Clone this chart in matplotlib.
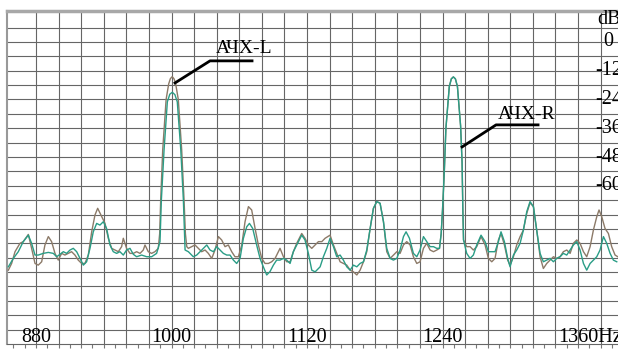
import matplotlib.pyplot as plt
import numpy as np

# frequency response, left channel (brown trace)
freq_l = [855.5, 858.4, 861.4, 865.8, 868.7, 873.2, 876.1, 879.1, 882.0, 885.0,
          887.9, 890.9, 893.8, 896.8, 899.7, 902.7, 905.6, 908.6, 911.5, 914.5,
          917.4, 920.4, 923.3, 926.3, 929.3, 932.2, 934.6, 937.5, 941.1, 944.0,
          947.0, 949.9, 952.9, 955.8, 957.3, 960.2, 963.2, 966.2, 969.1, 972.1,
          975.0, 976.5, 979.4, 982.4, 985.3, 988.3,
          989.5, 990.4, 992.2, 995.2, 997.5, 999.0, 1000.6, 1002.1, 1003.5, 1006.0,
          1009.0, 1011.1, 1012.3, 1013.5,
          1014.9, 1017.9, 1020.8, 1023.8, 1026.7, 1029.7, 1032.6, 1035.6, 1038.5, 1041.5,
          1044.4, 1047.4, 1050.3, 1053.3, 1056.2, 1059.2, 1062.2, 1065.1, 1068.1, 1071.0,
          1074.0, 1076.9, 1079.9, 1082.8, 1085.8, 1088.7, 1091.7, 1096.1, 1099.1, 1102.0,
          1105.0, 1107.9, 1110.9, 1115.3, 1118.2, 1121.2, 1124.2, 1127.2, 1130.1, 1133.1,
          1136.0, 1140.4, 1143.4, 1146.3, 1149.3, 1152.2, 1155.2, 1158.2, 1161.1, 1164.1,
          1167.0, 1170.0, 1172.9, 1175.9, 1178.8, 1181.8, 1184.7, 1187.7, 1190.6, 1193.6,
          1196.5, 1199.5, 1202.4, 1205.4, 1208.3, 1211.3, 1214.2, 1217.2, 1220.1, 1223.1,
          1226.0, 1229.0, 1232.0, 1234.9, 1237.3,
          1238.8, 1240.0, 1241.5, 1243.0, 1246.0, 1247.8, 1249.6, 1251.4, 1253.2, 1256.0,
          1257.3, 1258.0, 1258.6,
          1261.4, 1264.4, 1267.3, 1270.3, 1274.1, 1277.7, 1280.6, 1283.6, 1286.5, 1289.5,
          1291.8, 1294.8, 1297.7, 1299.8, 1302.8, 1305.7, 1308.7, 1311.6, 1314.6, 1317.5,
          1320.5, 1323.4, 1326.4, 1329.3, 1332.3, 1335.2, 1338.2, 1341.1, 1344.1, 1347.0,
          1350.0, 1353.0, 1355.9, 1358.9, 1361.8, 1364.8, 1367.7, 1370.7, 1373.6, 1376.6,
          1378.6, 1381.0, 1383.9, 1386.9, 1389.8, 1392.8, 1395.2]
level_l = [-95.2, -92.4, -87.5, -84.0, -83.3, -80.3, -86.1, -92.4, -93.1, -91.7,
           -84.7, -81.2, -83.3, -88.2, -91.0, -88.2, -88.9, -88.2, -87.5, -88.9,
           -91.0, -92.4, -92.4, -88.9, -79.2, -72.2, -69.4, -72.2, -75.7, -81.9,
           -86.1, -86.8, -87.5, -85.4, -81.9, -86.1, -88.2, -88.2, -87.5, -88.2,
           -86.8, -84.7, -87.5, -88.2, -87.5, -86.1,
           -80.0, -66.0, -45.0, -24.0, -17.5, -15.3, -14.5, -15.3, -17.0, -24.0,
           -45.0, -66.0, -80.0, -85.4,
           -86.1, -85.4, -84.7, -86.1, -87.5, -86.8, -88.2, -90.3, -86.8, -81.2,
           -82.6, -85.4, -84.7, -87.5, -89.6, -89.6, -84.7, -75.0, -68.7, -70.1,
           -77.8, -84.7, -90.3, -92.4, -92.4, -91.7, -90.3, -86.1, -89.6, -91.7,
           -91.7, -87.5, -84.0, -79.9, -81.9, -84.7, -86.1, -84.7, -83.3, -83.3,
           -81.9, -80.6, -84.7, -88.2, -91.7, -92.4, -93.1, -95.2, -95.9, -97.2,
           -95.2, -91.7, -87.5, -77.8, -69.4, -66.6, -67.3, -75.0, -87.5, -90.3,
           -88.9, -87.5, -88.2, -84.7, -83.3, -84.7, -89.6, -92.4, -91.7, -86.1,
           -84.0, -86.8, -87.5, -86.8, -86.1,
           -80.0, -70.0, -55.0, -36.0, -18.6, -15.4, -14.6, -15.4, -18.6, -35.0,
           -50.0, -70.0, -82.6,
           -85.4, -85.4, -86.8, -85.4, -81.2, -84.7, -90.3, -91.7, -90.3, -82.6,
           -79.9, -84.7, -91.0, -93.1, -89.6, -84.7, -81.2, -78.5, -71.5, -67.1,
           -68.7, -78.5, -89.6, -94.5, -92.4, -91.0, -89.6, -90.3, -89.6, -87.5,
           -86.8, -88.2, -84.0, -82.6, -84.0, -87.5, -89.6, -85.4, -78.5, -72.9,
           -70.1, -72.9, -77.8, -79.9, -85.4, -88.9, -89.6]

# frequency response, right channel (green trace)
freq_r = [855.5, 859.9, 864.3, 868.7, 873.2, 876.1, 879.1, 882.0, 886.4, 890.9,
          895.3, 898.3, 901.2, 904.2, 907.1, 910.1, 913.0, 916.0, 918.9, 921.9,
          924.8, 927.8, 930.7, 933.7, 936.6, 939.6, 942.5, 945.5, 948.4, 951.4,
          954.3, 957.3, 960.2, 963.2, 966.2, 969.1, 973.5, 978.0, 982.4, 986.8,
          989.8, 991.0, 993.4, 996.3, 998.5, 1000.7, 1003.0, 1005.1, 1008.2, 1010.5,
          1012.0, 1014.9, 1019.3, 1022.3, 1025.3, 1028.2, 1031.2, 1034.1, 1037.1, 1040.0,
          1043.0, 1045.9, 1048.9, 1051.8, 1054.8, 1057.7, 1060.7, 1063.6, 1066.6, 1069.0,
          1071.9, 1075.4, 1078.4, 1081.3, 1084.3, 1087.2, 1090.2, 1093.1, 1096.1, 1099.1,
          1102.0, 1105.0, 1107.9, 1110.9, 1115.3, 1118.2, 1121.2, 1124.2, 1127.2, 1131.6,
          1134.5, 1137.5, 1140.4, 1143.4, 1146.3, 1149.3, 1152.2, 1155.2, 1158.2, 1161.1,
          1164.1, 1167.0, 1170.0, 1172.9, 1175.9, 1178.8, 1181.8, 1184.7, 1187.7, 1190.6,
          1193.6, 1196.5, 1199.5, 1202.4, 1205.4, 1207.7, 1210.7, 1214.2, 1217.2, 1220.1,
          1223.1, 1226.0, 1229.0, 1232.0, 1234.9, 1237.3,
          1238.8, 1240.0, 1241.5, 1243.0, 1246.0, 1247.8, 1249.6, 1251.4, 1253.2, 1256.0,
          1257.3, 1258.0, 1258.6,
          1261.4, 1264.4, 1267.3, 1270.3, 1274.1, 1277.7, 1280.6, 1283.6, 1286.5, 1289.5,
          1291.8, 1294.8, 1297.7, 1299.8, 1302.8, 1305.7, 1308.7, 1311.6, 1314.6, 1317.5,
          1320.5, 1323.4, 1326.4, 1329.3, 1332.3, 1335.2, 1338.2, 1341.1, 1344.1, 1347.0,
          1350.0, 1353.0, 1355.9, 1358.9, 1361.8, 1364.8, 1367.7, 1370.7, 1373.6, 1376.6,
          1379.5, 1382.5, 1385.4, 1388.4, 1391.3, 1394.3]
level_r = [-93.8, -90.3, -87.5, -83.3, -80.6, -84.0, -88.9, -88.9, -88.2, -87.8,
           -88.2, -89.6, -88.6, -87.5, -88.2, -86.8, -86.1, -87.5, -90.3, -93.1,
           -91.7, -86.1, -79.2, -75.7, -76.4, -75.0, -77.8, -84.7, -87.5, -88.2,
           -87.5, -88.9, -86.8, -86.1, -88.6, -89.6, -88.9, -89.6, -89.6, -88.2,
           -83.3, -66.0, -45.0, -25.0, -21.8, -21.0, -22.0, -25.0, -45.0, -66.0,
           -86.8, -87.5, -89.6, -88.9, -87.5, -86.1, -84.7, -86.8, -87.5, -85.4,
           -86.8, -88.2, -88.9, -88.9, -91.0, -92.4, -90.3, -82.0, -77.1, -75.7,
           -77.8, -84.7, -90.3, -93.8, -97.2, -95.8, -93.1, -91.0, -91.0, -90.3,
           -91.0, -92.4, -87.5, -84.7, -80.6, -82.6, -88.2, -95.2, -95.9, -93.8,
           -89.6, -86.1, -81.9, -85.4, -89.6, -88.9, -91.0, -93.8, -95.2, -93.1,
           -93.8, -92.4, -91.7, -86.8, -77.8, -69.4, -66.6, -67.3, -75.0, -86.1,
           -90.3, -91.0, -90.3, -86.8, -81.2, -79.2, -81.9, -88.2, -89.6, -86.8,
           -81.2, -83.3, -85.4, -85.4, -86.1, -86.1,
           -80.0, -70.0, -55.0, -36.0, -18.6, -15.4, -14.6, -15.4, -18.6, -35.0,
           -50.0, -70.0, -82.6,
           -88.2, -90.3, -88.9, -84.7, -80.6, -83.3, -87.5, -87.5, -87.5, -83.3,
           -79.2, -83.3, -90.3, -93.8, -88.9, -86.8, -84.0, -78.5, -70.8, -66.6,
           -68.7, -78.5, -88.2, -91.7, -91.0, -90.3, -91.7, -90.3, -89.6, -88.2,
           -88.9, -86.8, -84.7, -83.3, -86.8, -92.4, -95.2, -92.4, -91.0, -89.6,
           -86.8, -81.2, -84.0, -88.2, -91.0, -91.7]

x_labels = [880, 1000, 1120, 1240, 1360]
db_labels = [0, -12, -24, -36, -48, -60]

plt.rcParams['font.family'] = ['Liberation Serif', 'DejaVu Serif']

fig = plt.figure(figsize=(6.18, 3.5), dpi=100)
ax = fig.add_axes([7 / 618, 6 / 350, 611 / 618, 333 / 350])
ax.set_xlim(854.3, 1395.4)
ax.set_ylim(-126.0, 12.9)

# grid: 20 Hz by 6 dB cells
for f in range(880, 1400, 20):
    ax.axvline(f, color='#666666', lw=0.8, zorder=1)
for d in range(6, -126, -6):
    ax.axhline(d, color='#666666', lw=0.8, zorder=1)

ax.plot(freq_l, level_l, color='#8c7a68', lw=1.0, zorder=3)
ax.plot(freq_r, level_r, color='#2a9d86', lw=1.0, zorder=4)

# callouts
ax.plot([1003.1, 1034.1, 1071.3], [-17.1, -7.9, -7.9], color='black', lw=2.0, zorder=5)
ax.text(1064.2, -2.9, 'АЧХ-L', fontsize=14, ha='center', va='center', zorder=6)
ax.plot([1257.3, 1287.4, 1324.6], [-43.8, -34.6, -34.6], color='black', lw=2.0, zorder=5)
ax.text(1314.9, -30.1, 'АЧХ-R', fontsize=14, ha='center', va='center', zorder=6)

# axis labels drawn inside the grid
for f in x_labels[:-1]:
    ax.text(f, -123.2, str(f), fontsize=14.5, ha='center', va='center', zorder=6)
ax.text(1342.3, -123.2, '1360Hz', fontsize=14.5, ha='left', va='center', zorder=6)

ax.text(1387.1, 9.2, 'dB', fontsize=14.5, ha='center', va='center', zorder=6)
for d in db_labels:
    ax.text(1387.1, d, str(d), fontsize=14.5, ha='center', va='center', zorder=6)

ax.set_xticks(np.arange(860, 1400, 10))
ax.tick_params(axis='x', direction='out', length=3, width=0.8, color='#777777',
               labelbottom=False)
ax.set_yticks([])

ax.spines['top'].set_color('#a8a8a8')
ax.spines['top'].set_linewidth(2.5)
ax.spines['left'].set_color('#999999')
ax.spines['left'].set_linewidth(1.5)
ax.spines['bottom'].set_color('#666666')
ax.spines['bottom'].set_linewidth(0.8)
ax.spines['right'].set_visible(False)

fig.savefig('out.png', dpi=100)
